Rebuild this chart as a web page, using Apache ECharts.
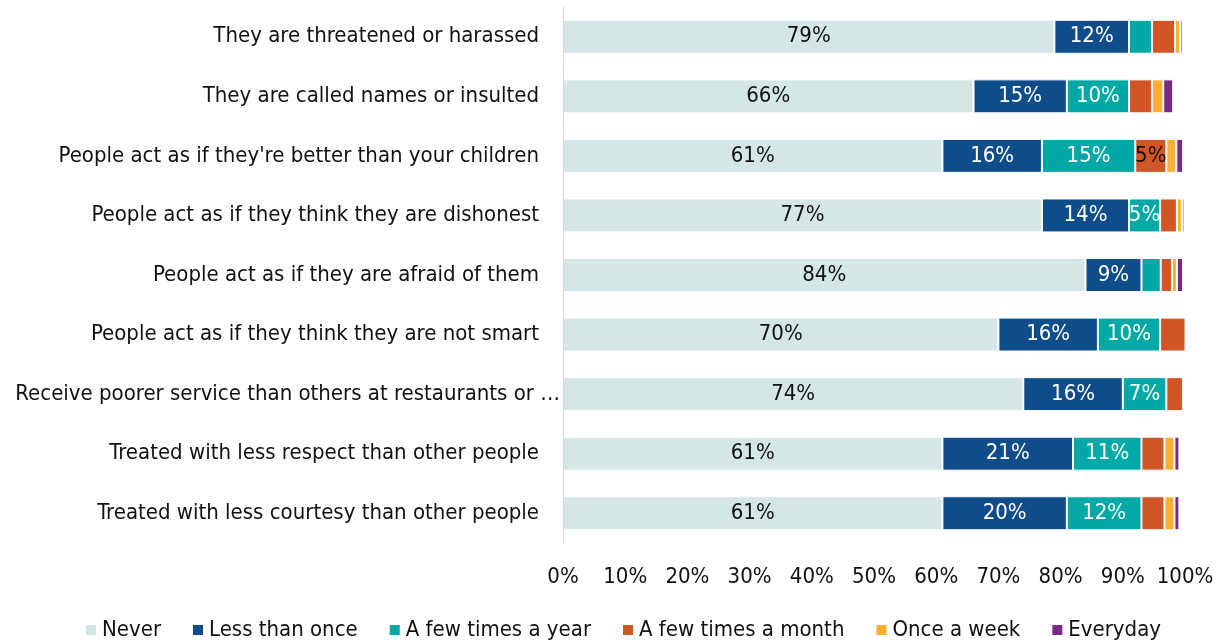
<!DOCTYPE html>
<html><head><meta charset="utf-8">
<script src="https://cdn.jsdelivr.net/npm/echarts@6/dist/echarts.min.js"></script>
<style>html,body{margin:0;padding:0;background:#fff}#c{width:1221px;height:644px}</style>
</head><body><div id="c"></div>
<script>
const categories = [
  "They are threatened or harassed",
  "They are called names or insulted",
  "People act as if they're better than your children",
  "People act as if they think they are dishonest",
  "People act as if they are afraid of them",
  "People act as if they think they are not smart",
  "Receive poorer service than others at restaurants or stores",
  "Treated with less respect than other people",
  "Treated with less courtesy than other people"
];
const seriesNames = ["Never","Less than once","A few times a year","A few times a month","Once a week","Everyday"];
const never      = [79, 66, 61, 77, 84, 70, 74, 61, 61];
const lessOnce   = [12, 15, 16, 14,  9, 16, 16, 21, 20];
const fewYear    = [3.7, 10, 15, 5, 3.1, 10, 7, 11, 12];
const fewMonth   = [3.7, 3.7, 5, 2.7, 1.8, 4.3, 2.7, 3.7, 3.7];
const onceWeek   = [0.8, 1.8, 1.6, 0.8, 0.8, 0, 0, 1.6, 1.6];
const everyday   = [0.4, 1.6, 1.1, 0.4, 1.0, 0, 0, 0.8, 0.8];
const xTicks = [0,10,20,30,40,50,60,70,80,90,100];

const colors = ["#d5e6e6","#0f4c8a","#00a9a5","#d25526","#fbb034","#7a2a86"];
const labelColors = ["#111","#fff","#fff","#111","#111","#fff"];
const dataSets = [never, lessOnce, fewYear, fewMonth, onceWeek, everyday];
const FONT = '"DejaVu Sans Condensed", "Liberation Sans", sans-serif';

const yData = categories.map(c => {
  const base = {fontFamily:FONT, fontSize:22, color:'#111'};
  // long label overflows further right in the original
  if (c.length > 52) return {value:c, textStyle:Object.assign(base, {padding:[0,-21,0,0]})};
  return c;
});

const chart = echarts.init(document.getElementById('c'), null, {renderer:'canvas'});
chart.setOption({
  animation:false,
  color: colors,
  textStyle:{fontFamily:FONT},
  grid:{left:563, right:36, top:7, bottom:101, containLabel:false, outerBoundsMode:'none'},
  legend:{
    bottom:-2, left:79, itemWidth:12, itemHeight:12, itemGap:30,
    icon:'rect',
    textStyle:{fontFamily:FONT, fontSize:22, color:'#111'},
    data: seriesNames
  },
  xAxis:{
    type:'value', min:0, max:100, interval:10,
    axisLine:{show:false}, axisTick:{show:false}, splitLine:{show:false},
    axisLabel:{fontFamily:FONT, fontSize:22, color:'#111', margin:23,
      formatter: v => xTicks.includes(v) ? v + '%' : ''}
  },
  yAxis:{
    type:'category', inverse:true, data:yData, z:5,
    axisLine:{show:true, lineStyle:{color:'#d9d9d9', width:1}},
    axisTick:{show:false},
    axisLabel:{fontFamily:FONT, fontSize:22, color:'#111', margin:24,
      width:551, overflow:'truncate', ellipsis:'…'}
  },
  series: seriesNames.map((name,i)=>({
    name, type:'bar', stack:'total', barWidth:'57%',
    itemStyle:{color:colors[i], borderColor:'#fff', borderWidth:1},
    label:{show:true, position:'inside', fontFamily:FONT, fontSize:22, color:labelColors[i],
      formatter: p => p.value >= 5 ? Math.round(p.value) + '%' : ''},
    data: dataSets[i]
  }))
});
</script></body></html>
